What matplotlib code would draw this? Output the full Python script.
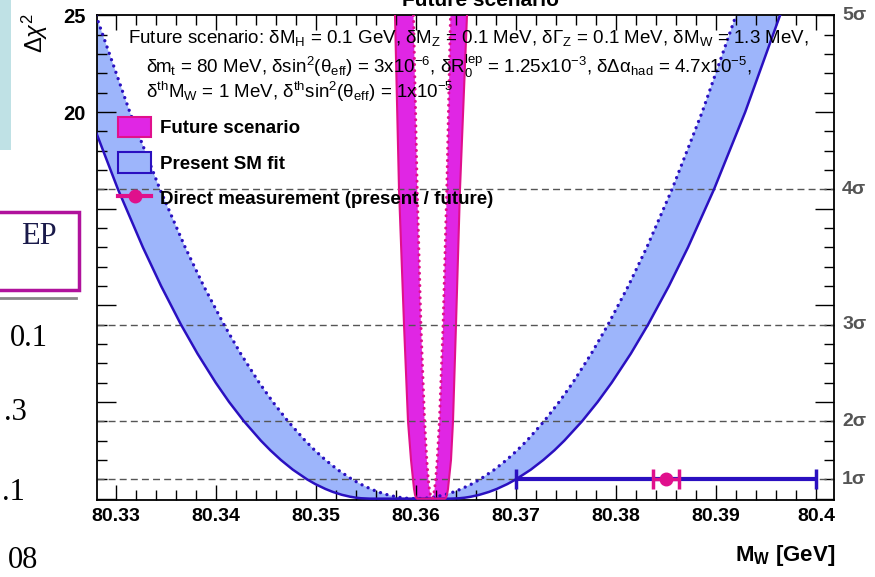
import numpy as np
import matplotlib.pyplot as plt
from matplotlib.patches import Patch, Rectangle
from matplotlib.lines import Line2D
from matplotlib.ticker import MultipleLocator
from matplotlib.transforms import blended_transform_factory

plt.rcParams['font.family'] = ['Liberation Sans', 'DejaVu Sans']
plt.rcParams['mathtext.fontset'] = 'custom'
plt.rcParams['mathtext.rm'] = 'Liberation Sans'
plt.rcParams['mathtext.it'] = 'Liberation Sans:italic'
plt.rcParams['mathtext.bf'] = 'Liberation Sans:bold'

levels = [25, 20, 16, 13, 11, 9, 7.5, 6, 5, 4, 3, 2.5, 2, 1.5, 1, 0.75, 0.5, 0.35, 0.2, 0.1, 0.05, 0.02, 0]

# present SM fit, solid curve (M_W in GeV at each level), left and right branch
sm_solid_left = [80.3239, 80.32723, 80.3302, 80.33269, 80.33451, 80.3365, 80.33815, 80.33997, 80.34131,
                 80.3428, 80.34449, 80.34544, 80.34649, 80.34768, 80.3491, 80.34994, 80.35095, 80.35167,
                 80.35258, 80.35341, 80.35399, 80.35451, 80.3554]
sm_solid_right = [80.3964, 80.39292, 80.3898, 80.3872, 80.38529, 80.3832, 80.38148, 80.37957, 80.37816,
                  80.3766, 80.37483, 80.37384, 80.37273, 80.37148, 80.3700, 80.36912, 80.36807, 80.36731,
                  80.36635, 80.36549, 80.36488, 80.36433, 80.3634]
# present SM fit, dotted curve
sm_dot_left = [80.3280, 80.33138, 80.3344, 80.33692, 80.33877, 80.3408, 80.34247, 80.34432, 80.34569,
               80.3472, 80.34892, 80.34988, 80.35095, 80.35216, 80.3536, 80.35446, 80.35548, 80.35621,
               80.35714, 80.35798, 80.35857, 80.3591, 80.3600]
sm_dot_right = [80.3920, 80.38862, 80.3856, 80.38308, 80.38123, 80.3792, 80.37753, 80.37568, 80.37431,
                80.3728, 80.37109, 80.37012, 80.36905, 80.36784, 80.3664, 80.36554, 80.36452, 80.36379,
                80.36286, 80.36202, 80.36143, 80.3609, 80.3600]

# future scenario (narrow band)
fut_levels = [25, 16, 9, 4, 2, 1, 0.5, 0.2, 0.05, 0]
fut_solid_left = [80.3579, 80.3583, 80.3588, 80.3592, 80.3595, 80.3597, 80.3598, 80.3599, 80.3600, 80.3601]
fut_solid_right = [80.3651, 80.3644, 80.3640, 80.3637, 80.3635, 80.3633, 80.3632, 80.3631, 80.3630, 80.3629]
fut_dot_left = [80.35975, 80.36012, 80.36049, 80.36086, 80.36108, 80.36123, 80.36134, 80.36144, 80.36152, 80.3616]
fut_dot_right = [80.36345, 80.36308, 80.36271, 80.36234, 80.36212, 80.36197, 80.36186, 80.36176, 80.36168, 80.3616]

# direct measurement of M_W (present / future)
mw_meas = 80.385
mw_err_present = 0.015
mw_err_future = 0.0013

sigma_levels = [1, 4, 9, 16, 25]
sigma_labels = ['1σ', '2σ', '3σ', '4σ', '5σ']
x_ticks = [80.33, 80.34, 80.35, 80.36, 80.37, 80.38, 80.39, 80.40]
x_tick_labels = ['80.33', '80.34', '80.35', '80.36', '80.37', '80.38', '80.39', '80.4']
y_ticks = [0, 5, 10, 15, 20, 25]
y_tick_labels = ['', '', '', '', '20', '25']

blue_fill = '#9db5fb'
blue_line = '#2a10c0'
pink_fill = '#e026e4'
pink_line = '#e0108c'

W, H = 875, 577
fig = plt.figure(figsize=(W / 100, H / 100), dpi=100)
ax = fig.add_axes([97 / W, 1 - 500 / H, (834 - 97) / W, (500 - 15) / H])


def px(x, y):
    return x / W, 1 - y / H


def band(outer_l, inner_l, inner_r, outer_r, lev, color, z):
    # left half: outer curve down, inner curve back up; same for the right half
    ax.fill(outer_l + inner_l[::-1], lev + lev[::-1], color=color, lw=0, zorder=z)
    ax.fill(inner_r + outer_r[::-1], lev + lev[::-1], color=color, lw=0, zorder=z)


band(sm_solid_left, sm_dot_left, sm_dot_right, sm_solid_right, levels, blue_fill, 1)
band(fut_solid_left, fut_dot_left, fut_dot_right, fut_solid_right, fut_levels, pink_fill, 1.5)

for lev in sigma_levels[:-1]:
    ax.axhline(lev, color='#555555', lw=1, ls=(0, (5, 3)), zorder=2)

dots = (0, (0.01, 2.0))
ax.plot(sm_solid_left + sm_solid_right[::-1], levels + levels[::-1], color=blue_line, lw=1.8, zorder=3)
ax.plot(sm_dot_left + sm_dot_right[::-1], levels + levels[::-1], color=blue_line, lw=2.4, ls=dots,
        dash_capstyle='round', zorder=3)
ax.plot(fut_solid_left + fut_solid_right[::-1], fut_levels + fut_levels[::-1], color=pink_line, lw=1.5, zorder=3.5)
ax.plot(fut_dot_left + fut_dot_right[::-1], fut_levels + fut_levels[::-1], color=pink_line, lw=2.2, ls=dots,
        dash_capstyle='round', zorder=3.5)

ax.errorbar(mw_meas, 1, xerr=mw_err_present, color=blue_line, elinewidth=3, capsize=7.5, capthick=2.5, zorder=4)
ax.errorbar(mw_meas, 1, xerr=mw_err_future, fmt='o', color=pink_line, ms=9, elinewidth=2.5,
            capsize=7.5, capthick=2.5, zorder=5)

ax.set_xlim(80.3281, 80.4018)
ax.set_ylim(-0.07, 25.02)
ax.set_xticks(x_ticks)
ax.set_xticklabels(x_tick_labels, fontsize=14, fontweight='bold')
ax.set_yticks(y_ticks)
ax.set_yticklabels(y_tick_labels, fontsize=14.5, fontweight='bold')
ax.xaxis.set_minor_locator(MultipleLocator(0.002))
ax.yaxis.set_minor_locator(MultipleLocator(1))
ax.tick_params(axis='x', which='major', direction='in', length=11, width=1, top=True, pad=6)
ax.tick_params(axis='x', which='minor', direction='in', length=7, width=1, top=True)
ax.tick_params(axis='y', which='major', direction='in', length=14, width=1, right=True, pad=8)
ax.tick_params(axis='y', which='minor', direction='in', length=7.5, width=1, right=True)
for s in ax.spines.values():
    s.set_linewidth(1.3)

tr = blended_transform_factory(ax.transAxes, ax.transData)
for lev, lab in zip(sigma_levels, sigma_labels):
    ax.text(1.011, lev, lab, transform=tr, va='center', ha='left', fontsize=14,
            fontweight='bold', color='#555555')

fig.text(*px(835, 556), r'M$_\mathbf{W}$ [GeV]', ha='right', va='center', fontsize=16, fontweight='bold')
fig.text(*px(35, 33), r'$\Delta\chi^2$', rotation=90, ha='center', va='center', fontsize=17)

info = [
    (128, 38, 'Future scenario: δM$_\\mathrm{H}$ = 0.1 GeV, δM$_\\mathrm{Z}$ = 0.1 MeV, '
              'δΓ$_\\mathrm{Z}$ = 0.1 MeV, δM$_\\mathrm{W}$ = 1.3 MeV,'),
    (146, 66, 'δm$_\\mathrm{t}$ = 80 MeV, δsin$^2$(θ$_\\mathrm{eff}$) = 3x10$^{-6}$, '
              'δR$_0^\\mathrm{lep}$ = 1.25x10$^{-3}$, δΔα$_\\mathrm{had}$ = 4.7x10$^{-5}$,'),
    (146, 92, 'δ$^\\mathrm{th}$M$_\\mathrm{W}$ = 1 MeV, δ$^\\mathrm{th}$sin$^2$(θ$_\\mathrm{eff}$) = 1x10$^{-5}$'),
]
for x0, y0, s in info:
    fig.text(*px(x0, y0), s, ha='left', va='center', fontsize=13.5)

handles = [Patch(facecolor=pink_fill, edgecolor=pink_line, lw=1.5),
           Patch(facecolor=blue_fill, edgecolor=blue_line, lw=1.5),
           Line2D([], [], color=pink_line, lw=3, marker='o', ms=9)]
ax.legend(handles, ['Future scenario', 'Present SM fit', 'Direct measurement (present / future)'],
          loc='upper left', bbox_to_anchor=(0.028, 0.79), frameon=False, borderpad=0, borderaxespad=0,
          handlelength=1.8, handleheight=1.3, handletextpad=0.45, labelspacing=0.8,
          prop={'weight': 'bold', 'size': 13.5})

# cut-off title at the top
fig.text(*px(481, 6), 'Future scenario', ha='center', va='baseline', fontsize=15, fontweight='bold')

# slide elements around the plot
fig.patches.append(Rectangle(px(0, 150), 10.5 / W, 150 / H, transform=fig.transFigure,
                             facecolor='#bfe1e5', edgecolor='none'))
fig.patches.append(Rectangle(px(-10, 290), 89 / W, 78 / H, transform=fig.transFigure,
                             facecolor='white', edgecolor='#b0129c', lw=2.5))
fig.text(*px(57, 236), 'EP', ha='right', va='center', fontsize=22, family='Liberation Serif', color='#1a1a4a')
fig.add_artist(Line2D([0, 76 / W], [1 - 298 / H] * 2, color='#888888', lw=2, transform=fig.transFigure))
for xr, yc, s in [(48, 338, '0.1'), (27, 413, '.3'), (25, 493, '.1'), (38, 560, '08')]:
    fig.text(*px(xr, yc), s, ha='right', va='center', fontsize=22, family='Liberation Serif')

fig.savefig('out.png', dpi=100)
